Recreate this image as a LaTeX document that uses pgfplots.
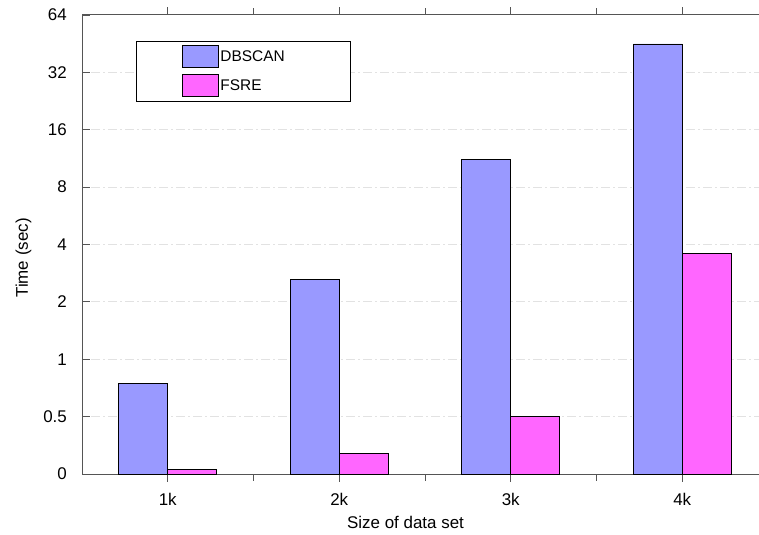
\documentclass[border=0pt]{standalone}
\usepackage{fontspec}
\setmainfont{Liberation Sans}
\usepackage{pgfplots}
\pgfplotsset{compat=1.18}

\definecolor{dbscan}{HTML}{9999FF}
\definecolor{fsre}{HTML}{FF66FF}
\definecolor{axisgray}{HTML}{555555}
\definecolor{gridgray}{HTML}{E2E2E2}

\pgfplotsset{
  barleg/.style={legend image code/.code={
      \path[draw=none,fill=none] (-46bp,0bp) -- (38bp,0bp);
      \draw[##1] (0bp,-11bp) rectangle (36bp,11bp);}},
}

\begin{document}
\begin{tikzpicture}
\path[use as bounding box] (0bp,0bp) rectangle (759bp,535bp);
\begin{axis}[
  at={(82bp,61bp)}, anchor=south west,
  scale only axis, width=686bp, height=459bp,
  ymode=log, log basis y=2, log origin=infty,
  ymin=0.25, ymax=64,
  ytick={0.25,0.5,1,2,4,8,16,32,64},
  yticklabels={0,0.5,1,2,4,8,16,32,64},
  xmin=0.5, xmax=4.5,
  xtick={1,2,3,4}, xticklabels={1k,2k,3k,4k},
  minor xtick={1.5,2.5,3.5},
  axis x line*=box, axis y line*=left,
  tick align=inside,
  major tick length=8bp, minor tick length=7bp,
  axis line style={axisgray, line width=1bp, -},
  every tick/.style={axisgray, line width=0.8bp},
  ybar=0pt, bar width=49bp,
  /pgf/number format/assume math mode=true,
  ticklabel style={font=\fontsize{17}{20}\selectfont, inner sep=0pt},
  yticklabel style={anchor=east, xshift=-15bp},
  xticklabel style={anchor=north, yshift=-11bp},
  xlabel={Size of data set},
  xlabel style={at={(axis description cs:0.4716,0)}, anchor=north, inner sep=0pt,
                yshift=-42bp, font=\fontsize{17}{20}\selectfont},
  ylabel={Time (sec)},
  ylabel style={at={(axis description cs:-0.0853,0.4706)}, anchor=center, inner sep=0pt,
                font=\fontsize{17}{20}\selectfont},
  legend style={at={(axis description cs:0.0787,0.9434)}, anchor=north west,
                draw=black, line width=0.8bp, fill=white,
                inner xsep=0pt, inner ysep=4bp, row sep=6bp,
                nodes={inner sep=0pt},
                font=\fontsize{15.5}{18}\selectfont,
                /tikz/every even column/.append style={column sep=0pt}},
  legend cell align=left,
]
% dash-dot grid lines, starting just past the y ticks and lying behind the bars
\pgfplotsinvokeforeach{0.5,1,2,4,8,16,32}{
  \draw[gridgray, line width=0.8bp, dash pattern=on 9bp off 3bp on 2bp off 3bp]
    ([xshift=9bp]axis cs:0.5,#1) -- (axis cs:4.5,#1);
}
\addplot[fill=dbscan, draw=black, line width=0.9bp, barleg]
  coordinates {(1,0.75) (2,2.63) (3,11.2) (4,45.1)};
\addlegendentry{\makebox[130bp][l]{DBSCAN}}
\addplot[fill=fsre, draw=black, line width=0.9bp, barleg]
  coordinates {(1,0.263) (2,0.322) (3,0.5) (4,3.6)};
\addlegendentry{\makebox[130bp][l]{FSRE}}
\end{axis}
\end{tikzpicture}
\end{document}
